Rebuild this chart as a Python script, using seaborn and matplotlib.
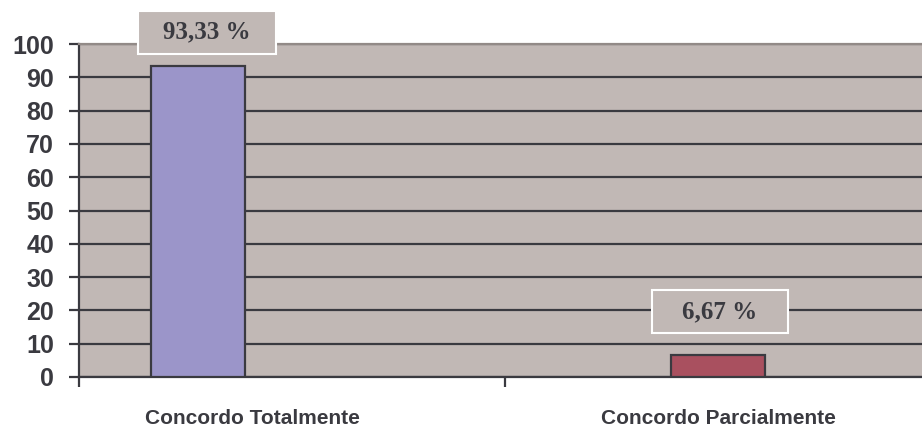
import numpy as np
import pandas as pd
import matplotlib.pyplot as plt
import matplotlib.transforms as mtransforms
import seaborn as sns

# data
categorias = ["Concordo Totalmente", "Concordo Parcialmente"]
series = ["Concordo Totalmente", "Concordo Parcialmente", "Discordo"]
valores = [93.33, 6.67]
rotulos = ["93,33 %", "6,67 %"]

cores = ["#9b95c9", "#a9505f", "#ffffcc"]
fundo = "#c1b8b5"
escuro = "#3a3a40"

df = pd.DataFrame({"categoria": categorias, "serie": series[:2], "valor": valores})

sns.set_style("white")
plt.rcParams["font.family"] = ["Liberation Sans", "DejaVu Sans"]

fig = plt.figure(figsize=(9.22, 4.32), dpi=100)
ax = fig.add_axes([79 / 922, 55 / 432, 852 / 922, 333 / 432])
ax.set_facecolor(fundo)

sns.barplot(data=df, x="categoria", y="valor", hue="serie", hue_order=series,
            order=categorias, palette=cores, saturation=1, width=282 / 426, dodge=True,
            edgecolor=escuro, linewidth=1.6, legend=False, ax=ax, zorder=3)

ax.set_xlim(-0.5, 1.5)
ax.set_ylim(0, 100)
ax.set_yticks(np.arange(0, 101, 10))
ax.yaxis.grid(True, color=escuro, linewidth=1.6, zorder=1)
ax.set_axisbelow(True)
ax.set_xlabel("")
ax.set_ylabel("")

for lado in ["left", "bottom"]:
    ax.spines[lado].set_color(escuro)
    ax.spines[lado].set_linewidth(1.6)
for lado in ["top", "right"]:
    ax.spines[lado].set_color("#928a87")
    ax.spines[lado].set_linewidth(1.6)

# boundaries as major ticks, category names as minor ticks
ax.set_xticks([-0.5, 0.5, 1.5])
ax.set_xticklabels([])
ax.set_xticks([0, 1], minor=True)
ax.set_xticklabels(categorias, minor=True, fontsize=15, fontweight="bold", color=escuro)
ax.tick_params(axis="x", which="major", direction="out", length=7, width=1.6, color=escuro, bottom=True)
ax.tick_params(axis="x", which="minor", length=0, pad=23)
ax.tick_params(axis="y", direction="out", length=7, width=1.6, color=escuro, left=True,
               labelsize=18, pad=11, labelcolor=escuro)
for t in ax.get_yticklabels():
    t.set_fontweight("bold")

desloc = mtransforms.ScaledTranslation(-40 / 100, 0, fig.dpi_scale_trans)
lbl = ax.get_xticklabels(minor=True)[0]
lbl.set_transform(lbl.get_transform() + desloc)

# data labels above the bars
barras = [p for p in ax.patches if p.get_height() > 0]
offs = [(9, 34), (2, 43)]
pads = [1.0, 1.2]
for b, txt, (dx, dy), pd_ in zip(barras, rotulos, offs, pads):
    ax.annotate(txt, (b.get_x() + b.get_width() / 2, b.get_height()),
                xytext=(dx, dy), textcoords="offset pixels", ha="center", va="center",
                family=["Liberation Serif", "DejaVu Serif"], fontweight="bold",
                fontsize=18, color=escuro, annotation_clip=False, zorder=5,
                bbox=dict(boxstyle=f"square,pad={pd_}", mutation_aspect=0.4 / pd_,
                          facecolor=fundo, edgecolor="white", linewidth=1.5))

fig.savefig("out.png", dpi=100)
